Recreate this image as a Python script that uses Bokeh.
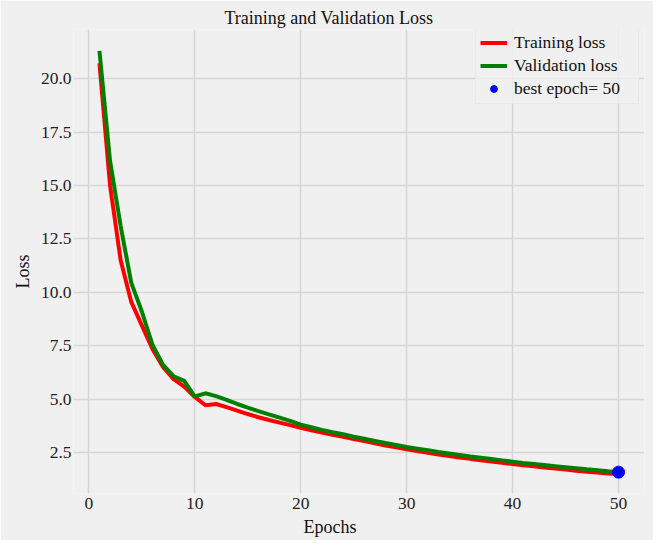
from bokeh.plotting import figure
from bokeh.models import Range1d, FixedTicker, NumeralTickFormatter, Legend, LegendItem, Title
from bokeh.embed import file_html
from bokeh.resources import INLINE

epochs = list(range(1, 51))
train_loss = [20.72, 15.0, 11.5, 9.55, 8.45, 7.35, 6.5, 5.93, 5.58, 5.1,
              4.71, 4.77, 4.62, 4.46, 4.3, 4.15, 4.02, 3.9, 3.78, 3.66,
              3.54, 3.43, 3.33, 3.23, 3.13, 3.03, 2.93, 2.83, 2.74, 2.65,
              2.57, 2.49, 2.41, 2.34, 2.27, 2.2, 2.14, 2.08, 2.02, 1.96,
              1.9, 1.85, 1.8, 1.75, 1.7, 1.65, 1.6, 1.56, 1.52, 1.48]
val_loss = [21.3, 16.15, 13.1, 10.45, 9.1, 7.55, 6.6, 6.07, 5.85, 5.12,
            5.27, 5.14, 4.96, 4.77, 4.6, 4.44, 4.28, 4.13, 3.98, 3.8,
            3.68, 3.56, 3.45, 3.35, 3.24, 3.14, 3.04, 2.94, 2.85, 2.76,
            2.68, 2.6, 2.52, 2.45, 2.38, 2.31, 2.25, 2.19, 2.13, 2.07,
            2.01, 1.96, 1.91, 1.86, 1.81, 1.76, 1.71, 1.67, 1.62, 1.58]
best_epoch = [50]
best_val = [1.58]
x_ticks = [0, 10, 20, 30, 40, 50]
y_ticks = [2.5, 5.0, 7.5, 10.0, 12.5, 15.0, 17.5, 20.0]

FONT = "Liberation Serif"
BG = "#f0f0f0"

p = figure(width=653, height=540, output_backend="svg", toolbar_location=None,
           title="Training and Validation Loss",
           x_range=Range1d(-1.45, 52.45), y_range=Range1d(0.58, 22.3),
           min_border_left=73, min_border_right=9, min_border_top=29, min_border_bottom=46)

p.background_fill_color = BG
p.border_fill_color = BG
p.outline_line_color = None

p.title.align = "left"
p.title.offset = 151
p.title.text_font = FONT
p.title.text_font_size = "18px"
p.title.text_font_style = "normal"
p.title.text_color = "#111111"
p.title.standoff = 4

for ax in (p.xaxis[0], p.yaxis[0]):
    ax.axis_line_color = None
    ax.major_tick_line_color = None
    ax.minor_tick_line_color = None
    ax.major_tick_out = 0
    ax.major_tick_in = 0
    ax.major_label_text_font = FONT
    ax.major_label_text_font_size = "17.5px"
    ax.major_label_text_color = "#222222"

p.xaxis.ticker = FixedTicker(ticks=x_ticks)
p.yaxis.ticker = FixedTicker(ticks=y_ticks)
p.yaxis.formatter = NumeralTickFormatter(format="0.0")
p.xaxis.major_label_standoff = 4
p.yaxis.major_label_standoff = 2

p.grid.grid_line_color = "#d6d6d6"
p.grid.grid_line_width = 1.5

r_train = p.line(epochs, train_loss, line_color="red", line_width=4)
r_val = p.line(epochs, val_loss, line_color="green", line_width=4)
r_best = p.scatter(best_epoch, best_val, size=12, fill_color="blue", line_color="blue")

xlabel = Title(text="Epochs", align="left", offset=230, standoff=7,
               text_font=FONT, text_font_size="18px", text_font_style="normal",
               text_color="#111111")
p.add_layout(xlabel, "below")

ylabel = Title(text="Loss", align="left", offset=205, standoff=10,
               text_font=FONT, text_font_size="18px", text_font_style="normal",
               text_color="#111111")
p.add_layout(ylabel, "left")

legend = Legend(items=[
    LegendItem(label="Training loss", renderers=[r_train]),
    LegendItem(label="Validation loss", renderers=[r_val]),
    LegendItem(label="best epoch= 50", renderers=[r_best]),
], location=(402, 389))
legend.label_text_font = FONT
legend.label_text_font_size = "17.5px"
legend.label_text_color = "#111111"
legend.glyph_width = 27
legend.glyph_height = 17
legend.label_height = 17
legend.label_width = 120
legend.spacing = 2
legend.padding = 4
legend.margin = 0
legend.label_standoff = 7
legend.background_fill_color = BG
legend.background_fill_alpha = 0.8
legend.border_line_color = "#e2e2e2"
legend.border_line_width = 1
p.add_layout(legend)

open("out.html", "w").write(file_html(p, INLINE))
